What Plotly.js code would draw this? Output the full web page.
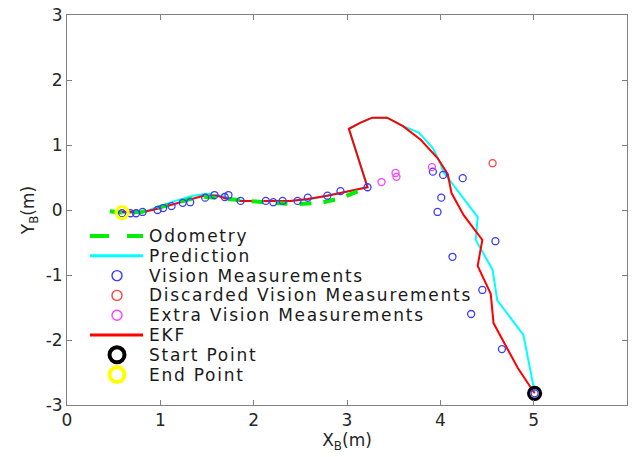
<!DOCTYPE html>
<html>
<head>
<meta charset="utf-8">
<script src="https://cdn.plot.ly/plotly-3.0.1.min.js"></script>
<style>
html,body{margin:0;padding:0;background:#fff;}
#chart{width:632px;height:457px;}
text.annotation-text{letter-spacing:1.75px;}
</style>
</head>
<body>
<div id="chart"></div>
<script>
// ---- data (metres) ----
const odomX = [0.46, 0.60, 0.80, 1.05, 1.25, 1.43, 1.64, 1.86, 2.18, 2.45, 2.72, 2.93, 3.22];
const odomY = [-0.02, -0.04, -0.03, 0.07, 0.15, 0.21, 0.18, 0.15, 0.11, 0.09, 0.11, 0.18, 0.35];

const predX = [0.46, 0.59, 0.82, 1.00, 1.16, 1.35, 1.50, 1.64, 1.77, 1.91, 2.39, 2.61, 2.93, 3.22,
               3.02, 3.14, 3.27, 3.43, 3.60, 3.77, 3.92, 4.00, 4.03, 4.40, 4.38, 4.56, 4.61, 4.89, 5.01];
const predY = [-0.03, -0.05, -0.03, 0.06, 0.14, 0.22, 0.25, 0.22, 0.17, 0.14, 0.14, 0.17, 0.26, 0.35,
               1.25, 1.34, 1.42, 1.42, 1.29, 1.19, 0.95, 0.72, 0.59, -0.11, -0.46, -0.92, -1.39, -1.92, -2.80];

const ekfX = [5.01, 4.83, 4.57, 4.54, 4.40, 4.45, 4.25, 4.12, 4.08, 3.97, 3.79, 3.60, 3.43, 3.27, 3.14, 3.02,
              3.22, 2.93, 2.79, 2.58, 2.39, 2.15, 1.86, 1.72, 1.61, 1.46, 1.29, 1.11, 0.97, 0.82, 0.59];
const ekfY = [-2.82, -2.43, -1.74, -1.29, -0.86, -0.46, -0.08, 0.26, 0.55, 0.80, 1.08, 1.29, 1.42, 1.42, 1.34, 1.25,
              0.35, 0.26, 0.22, 0.17, 0.14, 0.14, 0.14, 0.17, 0.22, 0.22, 0.15, 0.08, 0.02, -0.03, -0.03];

const visX = [0.59, 0.68, 0.74, 0.81, 0.97, 1.03, 1.12, 1.24, 1.32, 1.48, 1.58, 1.69, 1.73, 1.86, 2.13, 2.21,
              2.31, 2.47, 2.58, 2.79, 2.93, 3.22, 3.92, 4.03, 4.24, 4.01, 3.97, 4.59, 4.13, 4.45, 4.33, 4.66, 5.01];
const visY = [-0.05, -0.05, -0.05, -0.03, 0.00, 0.03, 0.06, 0.11, 0.12, 0.19, 0.23, 0.20, 0.23, 0.14, 0.14, 0.12,
              0.14, 0.14, 0.19, 0.22, 0.29, 0.35, 0.59, 0.54, 0.49, 0.19, -0.03, -0.48, -0.72, -1.23, -1.60, -2.14, -2.82];

const discX = [4.56];
const discY = [0.72];

const extraX = [3.37, 3.52, 3.53, 3.91];
const extraY = [0.43, 0.57, 0.51, 0.66];

const startX = [5.01], startY = [-2.82];
const endX = [0.59], endY = [-0.04];

const labels = ['Odometry', 'Prediction', 'Vision Measurements', 'Discarded Vision Measurements',
                'Extra Vision Measurements', 'EKF', 'Start Point', 'End Point'];

const xTickVals = [0, 1, 2, 3, 4, 5, 6];
const xTickText = ['0', '1', '2', '3', '4', '5', '6'];
const yTickVals = [-3, -2, -1, 0, 1, 2, 3];
const yTickText = ['-3', '-2', '-1', '0', '1', '2', '3'];

// ---- traces (draw order) ----
const cPred = '#00ffff', cOdom = '#00ee00', cEkf = '#ff0000', cVis = '#3a3aff',
      cDisc = '#ff4040', cExtra = '#ff40ff';
const traces = [
  {x: predX, y: predY, mode: 'lines', line: {color: cPred, width: 2}, showlegend: false},
  {x: ekfX, y: ekfY, mode: 'lines', line: {color: cEkf, width: 2}, showlegend: false},
  {x: odomX, y: odomY, mode: 'lines', line: {color: cOdom, width: 4, dash: '12px,12px'}, showlegend: false},
  {x: visX, y: visY, mode: 'markers', marker: {symbol: 'circle-open', size: 7, color: cVis, line: {width: 1.3}}, showlegend: false},
  {x: discX, y: discY, mode: 'markers', marker: {symbol: 'circle-open', size: 7, color: cDisc, line: {width: 1.3}}, showlegend: false},
  {x: extraX, y: extraY, mode: 'markers', marker: {symbol: 'circle-open', size: 7, color: cExtra, line: {width: 1.3}}, showlegend: false},
  {x: startX, y: startY, mode: 'markers', marker: {symbol: 'circle-open', size: 12, color: '#000000', line: {width: 3.2}}, showlegend: false},
  {x: endX, y: endY, mode: 'markers', marker: {symbol: 'circle-open', size: 12, color: '#ffff00', line: {width: 3.2}}, showlegend: false}
];

// ---- hand-built legend (pixel layout converted to paper coords) ----
const L = 67, R = 5, T = 15, B = 52, W = 632, H = 457;
const pw = W - L - R, ph = H - T - B;
const px = v => (v - L) / pw;
const py = v => (H - B - v) / ph;
const legendStyle = [
  {kind: 'line', color: cOdom, width: 4, dash: '19px,18px'},
  {kind: 'line', color: cPred, width: 3},
  {kind: 'circ', color: cVis, r: 5, width: 1.4},
  {kind: 'circ', color: cDisc, r: 5, width: 1.4},
  {kind: 'circ', color: cExtra, r: 5, width: 1.4},
  {kind: 'line', color: cEkf, width: 3},
  {kind: 'circ', color: '#000000', r: 7.5, width: 4},
  {kind: 'circ', color: '#ffff00', r: 7.5, width: 4}
];
const shapes = [], annotations = [];
labels.forEach((lab, i) => {
  const yc = 236 + i * 19.8;
  const s = legendStyle[i];
  if (s.kind === 'line') {
    shapes.push({type: 'line', xref: 'paper', yref: 'paper', x0: px(90), x1: px(143), y0: py(yc), y1: py(yc),
      line: {color: s.color, width: s.width, dash: s.dash || 'solid'}});
  } else {
    shapes.push({type: 'circle', xref: 'paper', yref: 'paper', xsizemode: 'pixel', ysizemode: 'pixel',
      xanchor: px(117), yanchor: py(yc), x0: -s.r, x1: s.r, y0: -s.r, y1: s.r,
      line: {color: s.color, width: s.width}, fillcolor: 'rgba(0,0,0,0)'});
  }
  annotations.push({text: lab, xref: 'paper', yref: 'paper', x: px(147), y: py(yc), xanchor: 'left', yanchor: 'middle',
    showarrow: false, font: {family: 'DejaVu Sans', size: 17, color: '#1a1a1a'}});
});

const axisBase = {
  showgrid: false, zeroline: false, showline: true, linecolor: '#808080', linewidth: 1,
  mirror: 'ticks', ticks: 'inside', ticklen: 5, tickcolor: '#808080', tickmode: 'array',
  tickfont: {family: 'DejaVu Sans', size: 17, color: '#262626'}
};
const layout = {
  width: W, height: H,
  margin: {l: L, r: R, t: T, b: B, pad: 0},
  paper_bgcolor: '#ffffff', plot_bgcolor: '#ffffff',
  showlegend: false,
  xaxis: Object.assign({}, axisBase, {range: [0, 6], tickvals: xTickVals, ticktext: xTickText,
    title: {text: 'X<sub>B</sub>(m)', font: {family: 'DejaVu Sans', size: 17, color: '#262626'}, standoff: 3}}),
  yaxis: Object.assign({}, axisBase, {range: [-3, 3], tickvals: yTickVals, ticktext: yTickText,
    title: {text: 'Y<sub>B</sub>(m)', font: {family: 'DejaVu Sans', size: 17, color: '#262626'}, standoff: 6}}),
  shapes: shapes,
  annotations: annotations
};
Plotly.newPlot('chart', traces, layout, {staticPlot: true, displayModeBar: false});
</script>
</body>
</html>
